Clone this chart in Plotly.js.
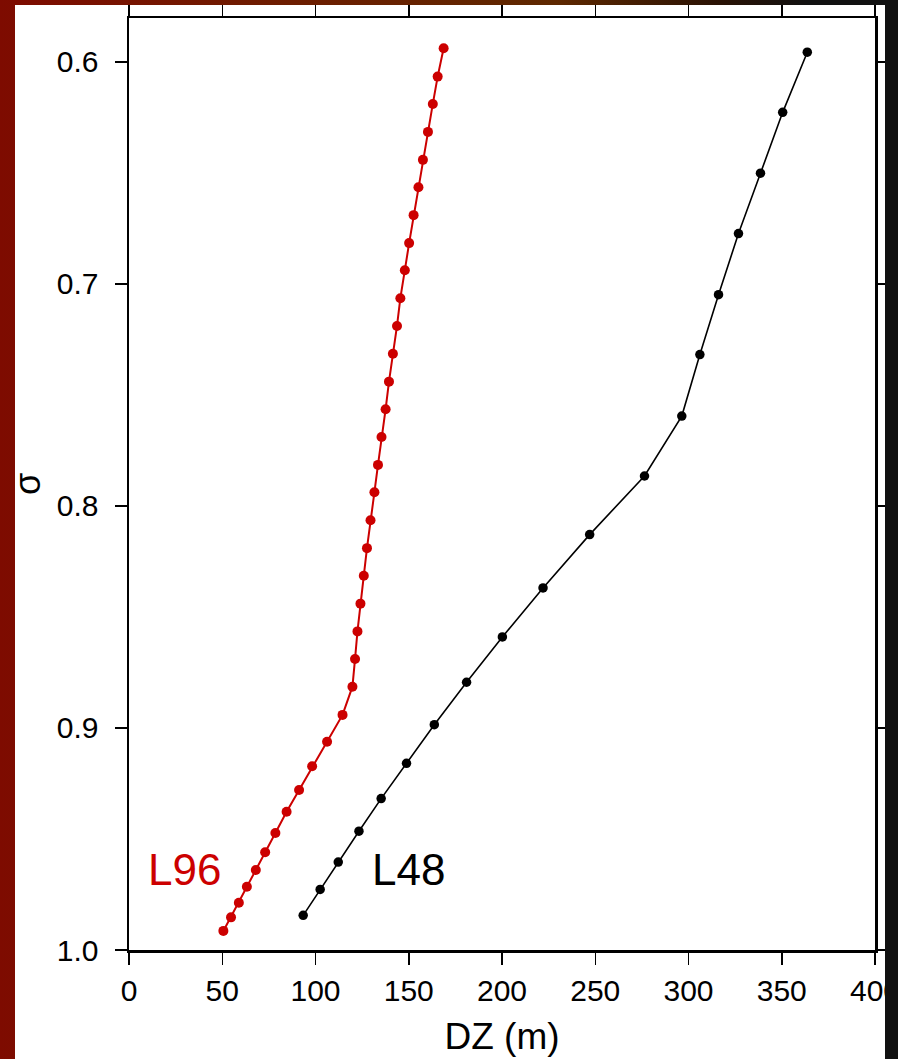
<!DOCTYPE html>
<html>
<head>
<meta charset="utf-8">
<script src="https://cdn.plot.ly/plotly-3.0.1.min.js"></script>
<style>
html, body { margin: 0; padding: 0; width: 898px; height: 1059px; overflow: hidden; }
body { background: linear-gradient(to right, #7e0b00 0%, #6e1c00 30%, #5e2800 62%, #2a1204 80%, #111 90%, #111 100%); }
#chart { position: absolute; left: 15px; top: 5px; width: 870px; height: 1054px; }
</style>
</head>
<body>
<div id="chart"></div>
<script>
// L96 series (red)
const l96_dz = [168.7, 165.5, 162.9, 160.3, 157.6, 155.2, 152.6, 150.2, 147.9, 145.5,
                143.7, 141.5, 139.4, 137.6, 135.4, 133.5, 131.6, 129.5, 127.6, 125.9,
                124.1, 122.5, 121.2, 119.8, 114.5, 106.2, 98.2, 91.2, 84.5, 78.5,
                73.0, 68.0, 63.2, 58.9, 54.7, 50.6];
const l96_sigma = [0.5938, 0.6066, 0.6189, 0.6315, 0.6441, 0.6564, 0.6690, 0.6816, 0.6938, 0.7064,
                   0.7189, 0.7314, 0.7440, 0.7564, 0.7689, 0.7815, 0.7938, 0.8064, 0.8190, 0.8314,
                   0.8440, 0.8565, 0.8689, 0.8814, 0.8941, 0.9062, 0.9172, 0.9279, 0.9377, 0.9473,
                   0.9560, 0.9640, 0.9715, 0.9787, 0.9853, 0.9914];
// L48 series (black)
const l48_dz = [363.7, 350.5, 338.6, 326.8, 316.1, 306.1, 296.4, 276.4, 247.0, 222.0,
                200.2, 181.0, 163.7, 148.8, 135.2, 123.3, 112.2, 102.5, 93.4];
const l48_sigma = [0.5956, 0.6227, 0.6501, 0.6773, 0.7048, 0.7318, 0.7595, 0.7865, 0.8129, 0.8369,
                   0.8590, 0.8794, 0.8985, 0.9159, 0.9318, 0.9465, 0.9604, 0.9727, 0.9844];
// labels
const seriesLabels = ["L96", "L48"];
const labelX = [29.8, 150];
const labelY = [0.9636, 0.9636];
const xTicks = [0, 50, 100, 150, 200, 250, 300, 350, 400];
const yTicks = [0.6, 0.7, 0.8, 0.9, 1.0];
const yTickText = ["0.6", "0.7", "0.8", "0.9", "1.0"];
const xTitle = "DZ (m)";
const yTitle = "σ";

const RED = "#cc0000";
const FONT = "Liberation Sans, Arial, Helvetica, sans-serif";

const traces = [
  { x: l96_dz, y: l96_sigma, mode: "lines+markers", name: "L96",
    line: { color: RED, width: 2 }, marker: { color: RED, size: 10 } },
  { x: l48_dz, y: l48_sigma, mode: "lines+markers", name: "L48",
    line: { color: "#000", width: 1.6 }, marker: { color: "#000", size: 9.5 } }
];

const axisCommon = {
  showgrid: false, zeroline: false, showline: true, linecolor: "#000", linewidth: 2.5,
  mirror: "ticks", ticks: "outside", ticklen: 12, tickwidth: 1.5, tickcolor: "#000",
  ticklabeloverflow: "allow",
  tickfont: { family: FONT, size: 30, color: "#000" }
};

const annotations = seriesLabels.map((t, i) => ({
  x: labelX[i], y: labelY[i], xref: "x", yref: "y", text: t, showarrow: false,
  xanchor: "center", yanchor: "middle",
  font: { family: FONT, size: 44, color: i === 0 ? RED : "#000" }
}));
// y-axis title placed as a rotated annotation for exact position
annotations.push({
  x: -0.1367, y: 0.5, xref: "paper", yref: "paper", text: yTitle, showarrow: false,
  xanchor: "center", yanchor: "middle", textangle: -90,
  font: { family: FONT, size: 36, color: "#000" }
});

const layout = {
  width: 870, height: 1054,
  margin: { l: 114, r: 10, t: 13, b: 109 },
  paper_bgcolor: "#fff", plot_bgcolor: "#fff",
  showlegend: false,
  font: { family: FONT, color: "#000" },
  xaxis: Object.assign({}, axisCommon, {
    range: [0, 400], tickvals: xTicks,
    title: { text: xTitle, font: { family: FONT, size: 37, color: "#000" }, standoff: 18 }
  }),
  yaxis: Object.assign({}, axisCommon, {
    range: [1.0, 0.5802], tickvals: yTicks, ticktext: yTickText,
    ticklabelstandoff: 10
  }),
  annotations: annotations
};

Plotly.newPlot("chart", traces, layout, { displayModeBar: false, staticPlot: true });
</script>
</body>
</html>
